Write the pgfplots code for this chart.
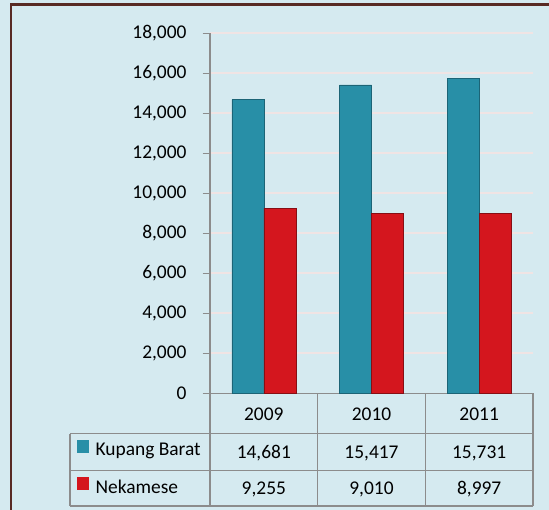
\documentclass[border=0pt]{standalone}
\usepackage{fontspec}
\setmainfont{Carlito}
\usepackage{pgfplots}
\usepackage{pgfplotstable}
\pgfplotsset{compat=1.18}
\definecolor{bg}{RGB}{213,234,240}
\definecolor{brd}{RGB}{88,42,36}
\definecolor{grd}{RGB}{240,228,228}
\definecolor{axg}{RGB}{140,140,140}
\definecolor{tealF}{RGB}{40,143,167}
\definecolor{tealE}{RGB}{28,100,118}
\definecolor{redF}{RGB}{212,22,30}
\definecolor{redE}{RGB}{135,14,20}

\pgfplotstableread{
x year kb nk
0 2009 14681 9255
1 2010 15417 9010
2 2011 15731 8997
}\data

\begin{document}
\begin{tikzpicture}
\useasboundingbox (0,0) rectangle (549bp,510bp);
\fill[bg] (0,0) rectangle (549bp,510bp);
\draw[brd, line width=2.5bp] (11.2bp,-5bp) -- (11.2bp,505.4bp) -- (560bp,505.4bp);
\begin{axis}[
  scale only axis, width=323bp, height=360bp,
  at={(210bp,116.7bp)}, anchor=south west,
  xmin=-0.5, xmax=2.5, ymin=0, ymax=18000,
  ybar=0pt, bar width=32bp,
  axis x line*=bottom, axis y line*=left,
  axis line style={axg, line width=1.2bp, -},
  ytick={2000,4000,...,18000},
  extra y ticks={0}, extra y tick style={grid=none},
  scaled y ticks=false,
  ymajorgrids, grid style={grd, line width=1.8bp},
  tick align=outside, major tick length=7.3bp,
  ytick style={axg, line width=1.2bp},
  xtick={0,1,2}, xtick style={draw=none},
  /pgf/number format/.cd, 1000 sep={,}, assume math mode=true, /pgfplots/.cd,
  yticklabel style={font=\fontsize{19.5}{23}\selectfont, inner sep=0pt, xshift=-16bp, anchor=east},
  xticklabel={\pgfplotstablegetelem{\ticknum}{year}\of\data\global\let\yr\pgfplotsretval
    \pgfplotstablegetelem{\ticknum}{kb}\of\data\global\let\kbv\pgfplotsretval
    \pgfplotstablegetelem{\ticknum}{nk}\of\data\global\let\nkv\pgfplotsretval
    \yr\\[1.5bp]\pgfmathprintnumber{\kbv}\\\pgfmathprintnumber{\nkv}},
  xticklabel style={align=center, anchor=base, yshift=-94bp, inner sep=0pt,
    font=\fontsize{19.5}{36.3}\selectfont},
  legend style={at={(axis description cs:-0.4127,-0.1285)}, anchor=north west,
    draw=none, fill=none, inner sep=0pt, outer sep=0pt, row sep=17bp, column sep=7.3bp,
    font=\fontsize{19.5}{23}\selectfont,
    nodes={inner sep=0pt, text height=14bp, text depth=5bp}},
  legend cell align=left,
]
\addplot[draw=tealE, line width=0.6bp, fill=tealF,
  legend image code/.code={\fill[tealF] (0bp,-1bp) rectangle (11bp,11bp);}]
  table[x=x,y=kb]{\data};
\addlegendentry{Kupang Barat}
\addplot[draw=redE, line width=0.6bp, fill=redF,
  legend image code/.code={\fill[redF] (0bp,-1bp) rectangle (11bp,11bp);}]
  table[x=x,y=nk]{\data};
\addlegendentry{Nekamese}
\end{axis}
\begin{scope}[axg, line width=1.3bp]
\foreach \yy in {76.2,39.2,4} \draw (70bp,\yy bp) -- (533bp,\yy bp);
\draw (70bp,76.2bp) -- (70bp,4bp);
\foreach \xx in {210,317.7,425.4,533} \draw (\xx bp,116.7bp) -- (\xx bp,4bp);
\end{scope}
\end{tikzpicture}
\end{document}
